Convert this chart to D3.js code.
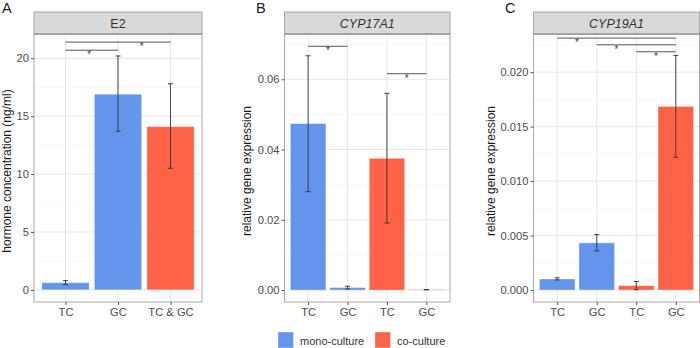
<!DOCTYPE html>
<html>
<head>
<meta charset="utf-8">
<script src="https://cdnjs.cloudflare.com/ajax/libs/d3/7.8.5/d3.min.js"></script>
<style>
  body { margin: 0; background: #fff; }
  svg { display: block; }
</style>
</head>
<body>
<script>

// panel titles
var panelLetters = ["A", "B", "C"];
var stripTitles = ["E2", "CYP17A1", "CYP19A1"];
var yTitles = ["hormone concentration (ng/ml)", "relative gene expression", "relative gene expression"];

// A: E2
var catsA = ["TC", "GC", "TC & GC"];
var cultureA = ["mono", "mono", "co"];
var meanA = [0.62, 16.9, 14.1];
var lowA = [0.45, 13.7, 10.5];
var highA = [0.8, 20.2, 17.8];
var ticksA = [0, 5, 10, 15, 20];
var sigFromA = [0, 0], sigToA = [1, 2], sigYA = [20.7, 21.4], sigStarA = [0.45, 1.45];

// B: CYP17A1
var catsB = ["TC", "GC", "TC", "GC"];
var cultureB = ["mono", "mono", "co", "co"];
var meanB = [0.0474, 0.0007, 0.0375, 0.0001];
var lowB = [0.028, 0.0003, 0.0191, 0.00005];
var highB = [0.0667, 0.0011, 0.056, 0.00015];
var ticksB = [0, 0.02, 0.04, 0.06];
var sigFromB = [0, 2], sigToB = [1, 3], sigYB = [0.0694, 0.0616], sigStarB = [0.5, 2.5];

// C: CYP19A1
var catsC = ["TC", "GC", "TC", "GC"];
var cultureC = ["mono", "mono", "co", "co"];
var meanC = [0.00101, 0.00433, 0.0004, 0.01685];
var lowC = [0.00092, 0.00359, 0.00003, 0.01219];
var highC = [0.00113, 0.00509, 0.00078, 0.02153];
var ticksC = [0, 0.005, 0.01, 0.015, 0.02];
var sigFromC = [0, 1, 2], sigToC = [3, 3, 3], sigYC = [0.02312, 0.02251, 0.02187], sigStarC = [0.5, 1.5, 2.5];

var legendKeys = ["mono", "co"];
var legendLabels = ["mono-culture", "co-culture"];

var width = 700;
var height = 348;
var font = "'Liberation Sans', Arial, sans-serif";

var colorScale = d3.scaleOrdinal()
                  .domain(["mono", "co"])
                  .range(["#6495ED", "#FF6347"]);

var svg = d3.select("body")
            .append("svg")
            .attr("width", width)
            .attr("height", height)
            .style("font-family", font);

var stripTop = 12;
var panelTop = 34;
var panelBottom = 302;

function drawPanel(p) {
  var n = p.cats.length;

  var x = d3.scaleLinear()
            .domain([-0.6, n - 1 + 0.6])
            .range([p.left, p.right]);

  var y = d3.scaleLinear()
            .domain(p.yDomain)
            .range([panelBottom, panelTop]);

  var g = svg.append("g");

  // gridlines (minor + major)
  var minor = [];
  for (var i = 0; i < p.ticks.length; i++) {
    var step = p.ticks[1] - p.ticks[0];
    var m = p.ticks[i] + step / 2;
    if (m < p.yDomain[1]) minor.push(m);
  }
  g.selectAll(".minor")
    .data(minor)
    .enter()
      .append("line")
      .attr("x1", p.left).attr("x2", p.right)
      .attr("y1", function(d) { return y(d); })
      .attr("y2", function(d) { return y(d); })
      .attr("stroke", "#f0f0f0")
      .attr("stroke-width", 0.6);

  g.selectAll(".major")
    .data(p.ticks)
    .enter()
      .append("line")
      .attr("x1", p.left).attr("x2", p.right)
      .attr("y1", function(d) { return y(d); })
      .attr("y2", function(d) { return y(d); })
      .attr("stroke", "#e6e6e6")
      .attr("stroke-width", 1);

  g.selectAll(".vgrid")
    .data(d3.range(n))
    .enter()
      .append("line")
      .attr("x1", function(d) { return x(d); })
      .attr("x2", function(d) { return x(d); })
      .attr("y1", panelTop).attr("y2", panelBottom)
      .attr("stroke", "#e6e6e6")
      .attr("stroke-width", 1);

  // bars
  var rows = d3.range(n).map(function(i) {
    return {i: i, mean: p.mean[i], low: p.low[i], high: p.high[i], culture: p.culture[i]};
  });

  g.selectAll(".bar")
    .data(rows)
    .enter()
      .append("rect")
      .attr("class", "bar")
      .attr("x", function(d) { return x(d.i - 0.45); })
      .attr("width", function(d) { return x(0.9) - x(0); })
      .attr("y", function(d) { return y(d.mean); })
      .attr("height", function(d) { return y(0) - y(d.mean); })
      .attr("fill", function(d) { return colorScale(d.culture); })
      .attr("stroke", "#ffffff")
      .attr("stroke-opacity", 0.35)
      .attr("stroke-width", 1);

  // error bars
  var eb = g.selectAll(".err")
    .data(rows)
    .enter()
      .append("g")
      .attr("stroke", "#333333")
      .attr("stroke-width", 0.9);
  eb.append("line")
    .attr("x1", function(d) { return x(d.i); })
    .attr("x2", function(d) { return x(d.i); })
    .attr("y1", function(d) { return y(d.low); })
    .attr("y2", function(d) { return y(d.high); });
  eb.append("line")
    .attr("x1", function(d) { return x(d.i) - 2.5; })
    .attr("x2", function(d) { return x(d.i) + 2.5; })
    .attr("y1", function(d) { return y(d.low); })
    .attr("y2", function(d) { return y(d.low); });
  eb.append("line")
    .attr("x1", function(d) { return x(d.i) - 2.5; })
    .attr("x2", function(d) { return x(d.i) + 2.5; })
    .attr("y1", function(d) { return y(d.high); })
    .attr("y2", function(d) { return y(d.high); });

  // significance brackets
  var sig = p.sigY.map(function(v, k) {
    return {from: p.sigFrom[k], to: p.sigTo[k], y: v, star: p.sigStar[k]};
  });
  g.selectAll(".sig")
    .data(sig)
    .enter()
      .append("line")
      .attr("x1", function(d) { return x(d.from); })
      .attr("x2", function(d) { return x(d.to); })
      .attr("y1", function(d) { return y(d.y); })
      .attr("y2", function(d) { return y(d.y); })
      .attr("stroke", "#555555")
      .attr("stroke-width", 1);
  g.selectAll(".star")
    .data(sig)
    .enter()
      .append("text")
      .attr("x", function(d) { return x(d.star); })
      .attr("y", function(d) { return y(d.y) + 8; })
      .attr("text-anchor", "middle")
      .style("font-size", "10px")
      .attr("fill", "#444444")
      .text("*");

  // panel border
  g.append("rect")
    .attr("x", p.left)
    .attr("y", panelTop)
    .attr("width", p.right - p.left)
    .attr("height", panelBottom - panelTop)
    .attr("fill", "none")
    .attr("stroke", "#a8a8a8")
    .attr("stroke-width", 1);

  // strip
  g.append("rect")
    .attr("x", p.left)
    .attr("y", stripTop)
    .attr("width", p.right - p.left)
    .attr("height", panelTop - stripTop)
    .attr("fill", "#d9d9d9")
    .attr("stroke", "#a8a8a8")
    .attr("stroke-width", 1);
  g.append("line")
    .attr("x1", p.left).attr("x2", p.right)
    .attr("y1", panelTop).attr("y2", panelTop)
    .attr("stroke", "#8a8a8a")
    .attr("stroke-width", 1.2);
  g.append("text")
    .attr("x", (p.left + p.right) / 2)
    .attr("y", (stripTop + panelTop) / 2 + 4.5)
    .attr("text-anchor", "middle")
    .style("font-size", "12.5px")
    .style("font-style", p.italic ? "italic" : "normal")
    .attr("fill", "#333333")
    .text(p.title);

  // axes
  var yAxis = d3.axisLeft(y)
                .tickValues(p.ticks)
                .tickSize(3)
                .tickPadding(2)
                .tickFormat(d3.format(p.fmt));
  var ya = g.append("g")
    .attr("transform", "translate(" + p.left + ",0)")
    .call(yAxis);
  ya.select(".domain").remove();
  ya.selectAll("line").attr("stroke", "#555555");
  ya.selectAll("text")
    .attr("fill", "#4d4d4d")
    .style("font-size", "11.2px")
    .style("font-family", font);

  var xAxis = d3.axisBottom(x)
                .tickValues(d3.range(n))
                .tickSize(3)
                .tickPadding(3)
                .tickFormat(function(i) { return p.cats[i]; });
  var xa = g.append("g")
    .attr("transform", "translate(0," + panelBottom + ")")
    .call(xAxis);
  xa.select(".domain").remove();
  xa.selectAll("line").attr("stroke", "#555555");
  xa.selectAll("text")
    .attr("fill", "#4d4d4d")
    .style("font-size", "11.2px")
    .style("font-family", font);

  // y title
  g.append("text")
    .attr("transform", "translate(" + p.titleX + "," + 171 + ") rotate(-90)")
    .attr("text-anchor", "middle")
    .attr("dy", "0.35em")
    .style("font-size", "12px")
    .attr("fill", "#1a1a1a")
    .text(p.yTitle);

  // panel letter
  g.append("text")
    .attr("x", p.letterX)
    .attr("y", 13)
    .style("font-size", "14.5px")
    .attr("fill", "#1a1a1a")
    .text(p.letter);
}

drawPanel({left: 34, right: 202, yDomain: [-1.05, 22.1], cats: catsA, culture: cultureA,
  mean: meanA, low: lowA, high: highA, ticks: ticksA, fmt: "d",
  sigFrom: sigFromA, sigTo: sigToA, sigY: sigYA, sigStar: sigStarA,
  title: stripTitles[0], italic: false, yTitle: yTitles[0], titleX: 7, letter: panelLetters[0], letterX: 2});

drawPanel({left: 284.5, right: 450, yDomain: [-0.0034, 0.0729], cats: catsB, culture: cultureB,
  mean: meanB, low: lowB, high: highB, ticks: ticksB, fmt: ".2f",
  sigFrom: sigFromB, sigTo: sigToB, sigY: sigYB, sigStar: sigStarB,
  title: stripTitles[1], italic: true, yTitle: yTitles[1], titleX: 247, letter: panelLetters[1], letterX: 256});

drawPanel({left: 533.5, right: 699.5, yDomain: [-0.0011, 0.0235], cats: catsC, culture: cultureC,
  mean: meanC, low: lowC, high: highC, ticks: ticksC, fmt: ".3f",
  sigFrom: sigFromC, sigTo: sigToC, sigY: sigYC, sigStar: sigStarC,
  title: stripTitles[2], italic: true, yTitle: yTitles[2], titleX: 491, letter: panelLetters[2], letterX: 505});

// legend
var legendX = [278, 375];
var lg = svg.append("g");
lg.selectAll("rect")
  .data(legendKeys)
  .enter()
    .append("rect")
    .attr("x", function(d, i) { return legendX[i]; })
    .attr("y", 332)
    .attr("width", 15.5)
    .attr("height", 16)
    .attr("fill", function(d) { return colorScale(d); })
    .attr("stroke", "#ffffff")
    .attr("stroke-opacity", 0.35);
lg.selectAll("text")
  .data(legendLabels)
  .enter()
    .append("text")
    .attr("x", function(d, i) { return legendX[i] + 22; })
    .attr("y", 344.5)
    .style("font-size", "11px")
    .attr("fill", "#333333")
    .text(function(d) { return d; });

</script>
</body>
</html>
